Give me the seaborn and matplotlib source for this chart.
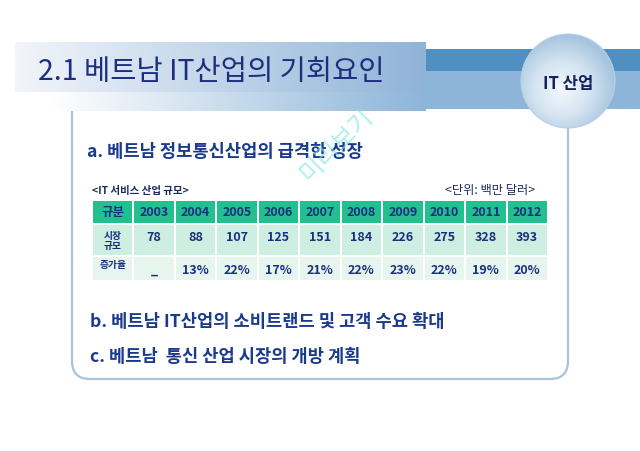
import numpy as np
import matplotlib.pyplot as plt
import seaborn as sns
from matplotlib.colors import LinearSegmentedColormap
from matplotlib.patches import Rectangle, Circle, FancyBboxPatch

# Data (IT service market size in Vietnam, million USD)
years = [2003, 2004, 2005, 2006, 2007, 2008, 2009, 2010, 2011, 2012]
market_size = [78, 88, 107, 125, 151, 184, 226, 275, 328, 393]
growth_rate = [None, 13, 22, 17, 21, 22, 23, 22, 19, 20]

title = "2.1 베트남 IT산업의 기회요인"
badge = "IT 산업"
point_a = "a. 베트남 정보통신산업의 급격한 성장"
point_b = "b. 베트남 IT산업의 소비트랜드 및 고객 수요 확대"
point_c = "c. 베트남  통신 산업 시장의 개방 계획"
table_caption = "<IT 서비스 산업 규모>"
unit_label = "<단위: 백만 달러>"
row_labels = ["규분", "시장\n규모", "증가율"]

sns.set_theme(style="white")
plt.rcParams['font.family'] = ['Noto Sans CJK KR', 'DejaVu Sans']

navy = "#1b2f7e"
fig = plt.figure(figsize=(6.4, 4.52), dpi=100)
ax = fig.add_axes([0, 0, 1, 1])


def hgrad(x0, x1, y0, y1, c0, c1, z):
    cmap = LinearSegmentedColormap.from_list("g", [c0, c1])
    g = np.linspace(0, 1, 256).reshape(1, -1)
    ax.imshow(g, extent=(x0, x1, y1, y0), aspect="auto", cmap=cmap, zorder=z)


# rounded content box
box = FancyBboxPatch((72, 96), 496, 284, boxstyle="round,pad=0,rounding_size=18",
                     fc="white", ec="#a9c3dc", lw=1.6, zorder=1)
ax.add_patch(box)

# header bands
ax.add_patch(Rectangle((426, 50), 214, 22, fc="#4f8fc2", ec="none", zorder=2))
ax.add_patch(Rectangle((426, 72), 214, 38, fc="#8db5d9", ec="none", zorder=2))
hgrad(50, 426, 93, 112, "#ffffff", "#8db5d9", 2)
hgrad(15, 426, 43, 93, "#f2f5fa", "#8fb4d8", 3)
ax.text(38, 72, title, fontsize=20.5, color=navy, va="center", ha="left", zorder=5)

# badge circle with radial gradient
cx, cy, r = 568, 82, 47
circ = Circle((cx, cy), r, fc="none", ec="#b8d0e6", lw=0.8, zorder=6)
ax.add_patch(circ)
yy, xx = np.mgrid[cy - r:cy + r:200j, cx - r:cx + r:200j]
d = np.sqrt((xx - (cx - 6)) ** 2 + (yy - (cy + 8)) ** 2) / (r * 1.15)
rcmap = LinearSegmentedColormap.from_list("r", ["#f4f8fc", "#d6e5f2", "#a6c4df"])
im = ax.imshow(d, extent=(cx - r, cx + r, cy + r, cy - r), aspect="auto",
               cmap=rcmap, vmin=0, vmax=1, zorder=5)
im.set_clip_path(Circle((cx, cy), r, transform=ax.transData))
ax.text(cx, cy + 2, badge, fontsize=12, fontweight="bold", color="#16235c",
        ha="center", va="center", zorder=7)

# watermark
ax.text(337, 145, "미리보기", fontsize=18, color="#7fe3e6", alpha=0.6,
        rotation=45, ha="center", va="center", zorder=8)

# bullet texts
for (x, y), txt in zip([(87, 152), (90, 322), (90, 357)], [point_a, point_b, point_c]):
    ax.text(x, y, txt, fontsize=12.7, fontweight="bold", color="#1a3a8c",
            va="center", zorder=5)

ax.text(92, 191, table_caption, fontsize=7.5, fontweight="bold", color="#1c2a5e",
        va="center", zorder=5)
ax.text(535, 191, unit_label, fontsize=8.8, color="#1c2a5e", ha="right",
        va="center", zorder=5)

# table
x0, x1 = 92, 548
cw = (x1 - x0) / 11
rows = [(202, 224, "#22c08f"), (226, 256, "#cfeee2"), (258, 281, "#e6f6ef")]
header = [row_labels[0]] + [str(y) for y in years]
size_row = [row_labels[1]] + [str(v) for v in market_size]
rate_row = [row_labels[2]] + ["_" if g is None else f"{g}%" for g in growth_rate]
for (ya, yb, col), cells in zip(rows, [header, size_row, rate_row]):
    for i, txt in enumerate(cells):
        xa = x0 + i * cw
        ax.add_patch(Rectangle((xa + 1, ya), cw - 2, yb - ya, fc=col, ec="none", zorder=4))
        if i == 0 and cells is not header:
            ax.text(xa + cw / 2, (ya + yb) / 2 - (4 if cells is rate_row else 0), txt,
                    fontsize=7, fontweight="bold", color=navy, ha="center",
                    va="center", linespacing=1.1, zorder=5)
        else:
            yc = (ya + yb) / 2 + (1 if cells is rate_row else 0)
            if cells is size_row:
                yc -= 3
            ax.text(xa + cw / 2, yc, txt, fontsize=9, fontweight="bold",
                    color=navy, ha="center", va="center", zorder=5)

ax.set_xlim(0, 640)
ax.set_ylim(452, 0)
ax.axis("off")
fig.savefig("out.png", dpi=100, facecolor="white")
